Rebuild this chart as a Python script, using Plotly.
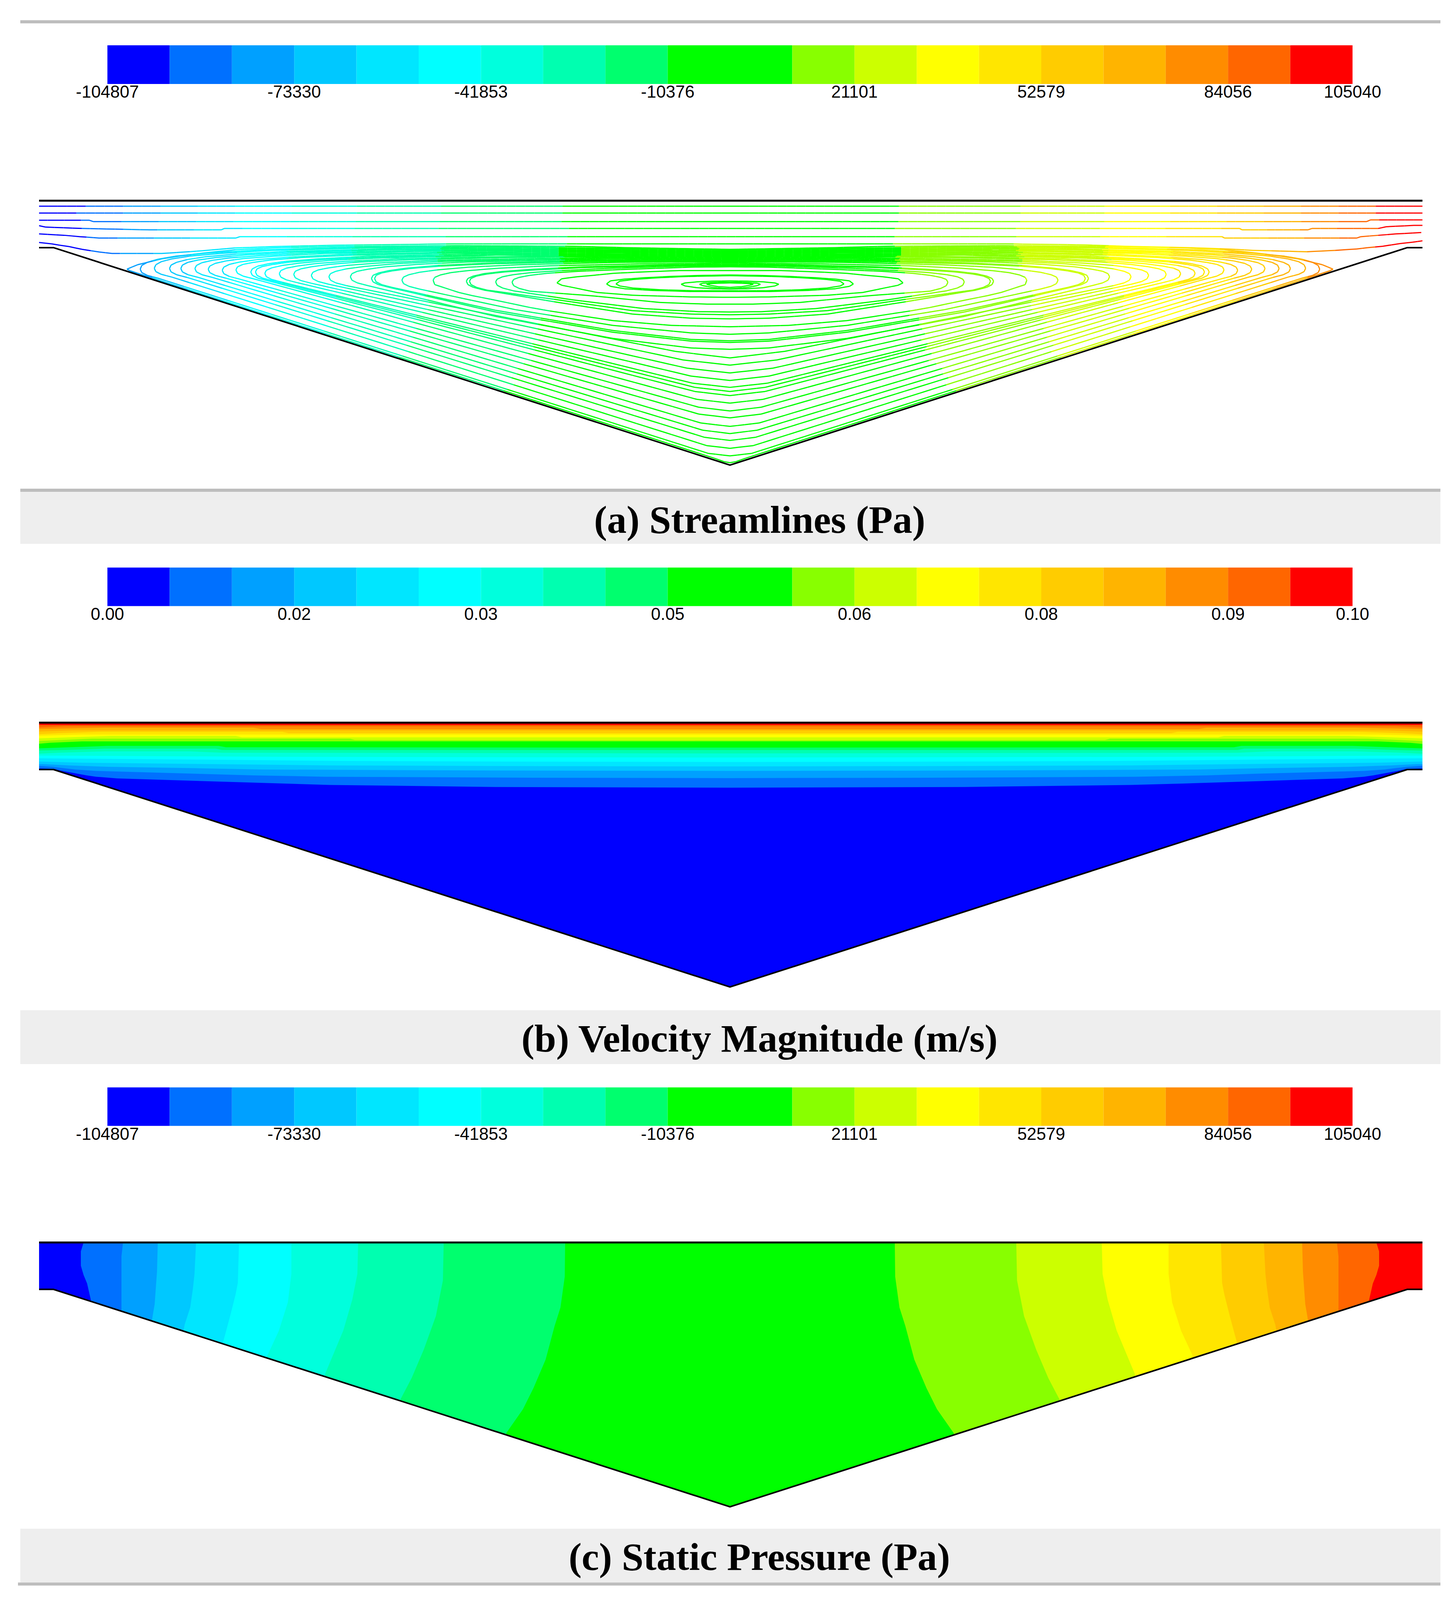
# CFD result panels: streamlines, velocity magnitude, static pressure
import math
import numpy as np
import plotly.graph_objects as go

W, H = 3694, 4654   # page is 3710x4670 with the 8px body margin
MARGIN = 8
LID = -2            # fills stop under the black lid line

# COLOUR LEVELS ------------------------------------------------------------
level_colors = ["#0000ff", "#0070ff", "#00a0ff", "#00c8ff", "#00e6ff", "#00ffff", "#00ffdd",
                "#00ffb0", "#00ff6e", "#00ff00", "#00ff00", "#88ff00", "#ccff00", "#ffff00",
                "#ffe600", "#ffcc00", "#ffb400", "#ff8c00", "#ff6600", "#ff0000"]
tick_cells = [0, 3, 6, 9, 12, 15, 18, 20]
pressure_ticks = ["-104807", "-73330", "-41853", "-10376", "21101", "52579", "84056", "105040"]
velocity_ticks = ["0.00", "0.02", "0.03", "0.05", "0.06", "0.08", "0.09", "0.10"]

captions = ["<b>(a) Streamlines (Pa)</b>", "<b>(b) Velocity Magnitude (m/s)</b>", "<b>(c) Static Pressure (Pa)</b>"]

# GEOMETRY (x from centre line, depth from the moving lid)
wall_x = [-1769, -1732, 0, 1734, 1773]
wall_y = [137, 137, 772, 137, 137]

# PRESSURE BAND EDGES, left half: distance from centre at each depth
p_edge_d = [
    [1655, 1662, 1662, 1655, 1646, 1635],
    [1554, 1558, 1558],
    [1465, 1467, 1473, 1480],
    [1367, 1371, 1375, 1382, 1396, 1399],
    [1257, 1260, 1266, 1280, 1298],
    [1123, 1123, 1132, 1155, 1186],
    [952, 954, 967, 990, 1021, 1037],
    [733, 735, 753, 784, 815, 844],
    [422, 423, 434, 449, 472, 503, 530, 573],
]
p_edge_y = [
    [0, 26, 68, 95, 120, 175],
    [0, 40, 200],
    [0, 85, 180, 227],
    [0, 92, 134, 190, 239, 256],
    [0, 118, 153, 216, 292],
    [0, 92, 175, 258, 334],
    [0, 92, 167, 257, 340, 385],
    [0, 111, 215, 313, 396, 459],
    [0, 100, 190, 244, 342, 425, 487, 557],
]

# VELOCITY BAND EDGES, half profile, lowest band first
v_edge_color = ["#0070ff", "#00a0ff", "#00c8ff", "#00e6ff", "#00ffff", "#00ffdd", "#00ffb0", "#00ff6e", "#00ff00",
                "#88ff00", "#ccff00", "#ffff00", "#ffe600", "#ffcc00", "#ffb400", "#ff8c00", "#ff6600", "#ff0000"]
v_edge_d = [
    [1790, 1732, 1710, 1647, 1623, 1569, 1456, 1354, 1257, 1156, 1025, 600, 0],
    [1790, 1736, 1703, 1676, 1623, 1497, 1354, 1220, 1038, 500, 0],
    [1790, 1760, 1692, 1591, 1369, 1196, 600, 0],
    [1790, 1659, 1317, 1025, 500, 0],
    [1790, 1346, 989, 500, 0],
    [1790, 1146, 0],
    [1790, 1719, 1601, 1383, 1300, 0],
    [1790, 1703, 1601, 1317, 1300, 0],
    [1790, 1692, 1595, 1309, 1290, 0],
    [1790, 1741, 1659, 0],
    [1790, 1716, 1634, 973, 960, 0],
    [1790, 1692, 1585, 1265, 1250, 0],
    [1790, 1659, 0],
    [1790, 1719, 1611, 1146, 1130, 0],
    [1790, 1684, 0],
    [1790, 1601, 1220, 1200, 0],
    [1790, 1703, 0],
    [1790, 0],
]
v_edge_y = [
    [133, 135, 141, 154, 158, 163, 167, 171, 174, 178, 182, 188, 190],
    [125, 129, 133, 137, 141, 145, 149, 154, 158, 161, 162],
    [121, 121, 125, 129, 133, 137, 140, 141],
    [113, 117, 121, 125, 127, 128],
    [104, 108, 112, 114, 115],
    [96, 100, 102],
    [92, 88, 84, 84, 88, 90],
    [82, 80, 76, 76, 80, 80],
    [76, 72, 68, 68, 72, 73],
    [64, 59, 55, 55],
    [55, 51, 47, 47, 51, 52],
    [47, 43, 39, 39, 43, 43],
    [39, 35, 35],
    [35, 31, 27, 27, 31, 31],
    [27, 23, 23],
    [19, 15, 15, 19, 19],
    [15, 11, 11],
    [7, 7],
]

# STREAMLINES OVER THE VORTEX ----------------------------------------------
through_x = [
    [-1769, 1773],
    [-1769, 1773],
    [-1769, -1640, -1630, 1630, 1640, 1773],
    [-1769, -1753, -1660, -1489, -1302, -1295, 1305, 1311, 1480, 1490, 1660, 1680, 1750, 1773],
    [-1769, -1704, -1664, -1614, -1265, -1255, 1260, 1266, 1605, 1615, 1660, 1705, 1770],
    [-1769, -1737, -1716, -1692, -1676, -1659, -1637, -1614, -1583, -1454, -1399, -1349, -1268, -1171, -1009, -704,
     704, 909, 1011, 1174, 1274, 1339, 1478, 1550, 1604, 1633, 1671, 1716, 1748, 1773],
]
through_y = [
    [16, 16],
    [36, 36],
    [57, 57, 61, 61, 56, 56],
    [73, 77, 81, 85, 85, 81, 81, 85, 85, 81, 81, 76, 72, 72],
    [97, 101, 105, 109, 109, 105, 105, 109, 109, 105, 101, 97, 93],
    [122, 126, 130, 134, 138, 142, 146, 150, 154, 154, 150, 146, 138, 134, 130, 126,
     126, 129, 133, 137, 141, 145, 149, 145, 141, 137, 133, 125, 121, 117],
]

# closed loops, read on the left half: tip to centre along the top, then along the bottom
upper_d = [
    [1544, 1517, 1484, 1455, 1410, 1350, 1266, 1171, 1009, 704, 399, 269, 109, 0],
    [1510, 1506, 1492, 1465, 1420, 1340, 1210, 960, 600, 300, 0],
    [1474, 1470, 1456, 1429, 1384, 1304, 1174, 924, 600, 300, 0],
    [1435, 1431, 1417, 1390, 1345, 1265, 1135, 885, 600, 300, 0],
    [1406, 1402, 1388, 1361, 1316, 1236, 1106, 856, 600, 300, 0],
    [1370, 1366, 1352, 1325, 1280, 1200, 1070, 820, 600, 300, 0],
    [1336, 1332, 1318, 1291, 1246, 1166, 1036, 786, 600, 300, 0],
    [1300, 1296, 1282, 1255, 1210, 1130, 1000, 750, 600, 300, 0],
    [1265, 1261, 1247, 1220, 1175, 1095, 965, 715, 600, 300, 0],
    [1227, 1223, 1209, 1182, 1137, 1057, 927, 677, 600, 300, 0],
    [1215, 1211, 1197, 1170, 1125, 1045, 915, 665, 600, 300, 0],
    [1191, 1187, 1173, 1146, 1101, 1021, 891, 641, 600, 300, 0],
    [1154, 1150, 1136, 1109, 1064, 984, 854, 604, 450, 200, 0],
    [1117, 1113, 1099, 1072, 1027, 947, 817, 567, 400, 200, 0],
    [1072, 1068, 1054, 1027, 982, 902, 772, 522, 350, 150, 0],
    [1027, 1023, 1009, 982, 937, 857, 727, 477, 300, 150, 0],
    [972, 968, 954, 927, 882, 802, 672, 422, 250, 100, 0],
    [918, 914, 900, 873, 828, 748, 618, 368, 200, 100, 0],
    [910, 906, 892, 865, 820, 740, 610, 360, 200, 0],
    [840, 836, 822, 795, 750, 670, 540, 290, 150, 0],
    [760, 756, 742, 715, 670, 590, 460, 210, 0],
    [675, 671, 657, 630, 585, 505, 375, 150, 0],
    [667, 663, 649, 622, 577, 497, 367, 150, 0],
    [600, 596, 582, 555, 510, 430, 300, 120, 0],
    [558, 554, 540, 513, 468, 388, 258, 100, 0],
    [443, 431, 391, 351, 299, 224, 132, 0],
    [316, 306, 270, 220, 150, 70, 0],
    [292, 282, 248, 200, 130, 60, 0],
    [125, 115, 85, 45, 0],
    [78, 70, 45, 20, 0],
    [60, 50, 30, 0],
]
upper_y = [
    [200, 187, 178, 170, 162, 153, 143, 138, 134, 131, 133, 137, 140, 142],
    [200, 189, 180, 171, 162, 153, 144, 136, 134, 139, 144],
    [197, 187, 178, 170, 162, 154, 145, 138, 136, 141, 146],
    [198, 188, 180, 172, 164, 156, 148, 141, 139, 144, 148],
    [198, 188, 180, 173, 166, 158, 150, 143, 141, 146, 150],
    [198, 189, 181, 174, 167, 160, 152, 146, 144, 148, 152],
    [200, 191, 183, 176, 169, 162, 154, 148, 146, 150, 154],
    [203, 194, 186, 179, 172, 165, 157, 151, 149, 152, 156],
    [202, 193, 186, 180, 173, 166, 159, 153, 152, 155, 158],
    [208, 199, 191, 184, 177, 170, 162, 156, 154, 157, 160],
    [208, 199, 192, 186, 179, 172, 165, 159, 157, 159, 162],
    [212, 203, 196, 189, 182, 174, 167, 161, 159, 161, 164],
    [213, 204, 197, 191, 184, 177, 170, 164, 162, 164, 166],
    [215, 206, 199, 193, 186, 179, 172, 166, 164, 166, 168],
    [218, 209, 202, 196, 189, 182, 175, 169, 167, 169, 170],
    [222, 213, 206, 199, 192, 184, 177, 171, 169, 170, 172],
    [222, 213, 206, 200, 193, 186, 179, 173, 172, 173, 174],
    [227, 218, 211, 204, 197, 189, 182, 175, 174, 175, 176],
    [227, 218, 211, 205, 198, 191, 184, 178, 177, 178],
    [232, 223, 216, 209, 202, 194, 187, 180, 179, 180],
    [232, 224, 217, 210, 204, 197, 190, 184, 183],
    [235, 227, 220, 213, 207, 200, 193, 187, 186],
    [235, 227, 220, 214, 208, 202, 195, 189, 188],
    [237, 229, 222, 216, 210, 204, 197, 191, 190],
    [238, 230, 224, 218, 212, 206, 200, 194, 193],
    [240, 228, 222, 218, 212, 208, 204, 204],
    [243, 234, 229, 225, 221, 218, 217],
    [243, 235, 230, 226, 222, 220, 219],
    [244, 240, 237, 235, 234],
    [244, 241, 239, 238, 238],
    [244, 242, 241, 240],
]
lower_d = [
    [1544, 1535, 1500, 40, 15, 0],
    [1510, 1506, 1492, 1465, 55, 0],
    [1474, 1470, 1456, 1429, 60, 0],
    [1435, 1431, 1417, 1390, 65, 0],
    [1406, 1402, 1388, 1361, 70, 0],
    [1370, 1366, 1352, 1325, 75, 0],
    [1336, 1332, 1318, 1291, 80, 0],
    [1300, 1296, 1282, 1255, 80, 0],
    [1265, 1261, 1247, 1220, 85, 0],
    [1227, 1223, 1209, 1182, 90, 0],
    [1215, 1211, 1197, 1170, 90, 0],
    [1191, 1187, 1173, 1146, 95, 0],
    [1154, 1150, 1136, 1109, 100, 0],
    [1117, 1113, 1099, 1072, 110, 0],
    [1072, 1068, 1054, 1027, 120, 0],
    [1027, 1023, 1009, 982, 140, 0],
    [972, 968, 954, 927, 600, 300, 100, 0],
    [918, 914, 900, 873, 600, 300, 100, 0],
    [910, 906, 892, 865, 600, 300, 100, 0],
    [840, 836, 822, 795, 550, 300, 100, 0],
    [760, 756, 729, 694, 660, 590, 511, 461, 300, 150, 0],
    [675, 671, 657, 630, 450, 250, 100, 0],
    [667, 663, 649, 622, 450, 250, 100, 0],
    [600, 596, 582, 555, 400, 220, 80, 0],
    [558, 554, 540, 513, 360, 180, 60, 0],
    [443, 430, 395, 340, 250, 100, 0],
    [316, 306, 270, 200, 100, 0],
    [292, 282, 248, 180, 90, 0],
    [125, 115, 85, 45, 0],
    [78, 70, 45, 20, 0],
    [60, 50, 30, 0],
]
lower_y = [
    [200, 205, 218, 752, 762, 765],
    [200, 210, 218, 226, 738, 745],
    [197, 207, 215, 223, 715, 723],
    [198, 208, 216, 224, 691, 700],
    [198, 208, 216, 224, 670, 680],
    [198, 208, 216, 224, 649, 659],
    [200, 210, 218, 226, 623, 634],
    [203, 213, 221, 229, 603, 614],
    [202, 212, 220, 228, 580, 591],
    [208, 218, 226, 234, 557, 569],
    [208, 218, 226, 234, 545, 557],
    [212, 222, 230, 238, 533, 545],
    [213, 223, 231, 239, 512, 525],
    [215, 225, 233, 241, 489, 503],
    [218, 228, 236, 244, 465, 480],
    [222, 232, 240, 248, 440, 459],
    [222, 232, 240, 248, 338, 402, 430, 434],
    [227, 237, 245, 253, 325, 384, 410, 414],
    [227, 237, 245, 253, 320, 379, 405, 409],
    [232, 242, 250, 258, 318, 364, 386, 390],
    [232, 245, 255, 268, 277, 293, 312, 322, 350, 364, 368],
    [235, 245, 253, 261, 295, 331, 343, 345],
    [235, 245, 253, 261, 288, 321, 331, 333],
    [237, 247, 255, 263, 290, 315, 324, 325],
    [238, 248, 256, 264, 277, 297, 302, 302],
    [240, 247, 255, 268, 276, 281, 282],
    [243, 250, 257, 262, 265, 265],
    [243, 249, 255, 260, 263, 263],
    [244, 249, 254, 257, 258],
    [244, 248, 253, 256, 257],
    [244, 247, 251, 253],
]


# PAGE POSITIONS ------------------------------------------------------------
def px(x):
    return (x - MARGIN) / W


def py(y):
    return 1 - (y - MARGIN) / H


bar_tops = [131, 1656, 3174]
field_tops = [585, 2109, 3627]
bar_h = 113
field_left, field_right = 100, 3642
x_range = [-1769, 1773]
y_range = [790, -10]


def pressure_band(x, y):
    left = sum(x >= -np.interp(y, e_y, e_d) for e_d, e_y in zip(p_edge_d, p_edge_y))
    right = sum(x >= np.interp(y, e_y, e_d) for e_d, e_y in zip(p_edge_d, p_edge_y))
    return 10 + right if right > 0 else left


fig = go.Figure()
layout_axes = {}

for n in range(3):
    # colour bar axes 1, 3, 5 / field axes 2, 4, 6
    bar_id, field_id = 2 * n + 1, 2 * n + 2
    layout_axes[f"xaxis{bar_id}"] = dict(domain=[px(275), px(3463)], range=[0, 20], anchor=f"y{bar_id}",
                                         tickvals=tick_cells, ticktext=velocity_ticks if n == 1 else pressure_ticks,
                                         tickfont=dict(family="Liberation Sans", size=44, color="black"),
                                         tickangle=0, ticks="", showgrid=False, zeroline=False, showline=False,
                                         automargin=False, ticklabelstandoff=-10)
    layout_axes[f"yaxis{bar_id}"] = dict(domain=[py(bar_tops[n] + bar_h), py(bar_tops[n])], range=[0, 1],
                                         anchor=f"x{bar_id}", visible=False, automargin=False)
    layout_axes[f"xaxis{field_id}"] = dict(domain=[px(field_left), px(field_right)], range=x_range,
                                           anchor=f"y{field_id}", visible=False, automargin=False)
    layout_axes[f"yaxis{field_id}"] = dict(domain=[py(field_tops[n] + y_range[0]), py(field_tops[n] + y_range[1])],
                                           range=y_range, anchor=f"x{field_id}", visible=False, automargin=False)

    fig.add_trace(go.Bar(x=[i + 0.5 for i in range(20)], y=[1] * 20, width=1, marker_color=level_colors,
                         marker_line_width=0, xaxis=f"x{bar_id}", yaxis=f"y{bar_id}"))


def add_field(trace, n):
    trace.update(xaxis=f"x{2 * n + 2}", yaxis=f"y{2 * n + 2}", hoverinfo="skip")
    fig.add_trace(trace)


def fill_poly(xs, ys, color, n):
    add_field(go.Scatter(x=xs, y=ys, mode="lines", fill="toself", fillcolor=color, line=dict(width=0)), n)


# (a) streamlines, coloured with the pressure band they run through
paths = [(list(bx), list(by)) for bx, by in zip(through_x, through_y)]
for u_d, u_y, l_d, l_y in zip(upper_d, upper_y, lower_d, lower_y):
    xs = [-d for d in u_d] + [d for d in u_d[::-1]] + [d for d in l_d] + [-d for d in l_d[::-1]]
    ys = list(u_y) + list(u_y[::-1]) + list(l_y) + list(l_y[::-1])
    paths.append((xs, ys))

bucket_x = {i: [] for i in range(20)}
bucket_y = {i: [] for i in range(20)}
for xs, ys in paths:
    for x0, y0, x1, y1 in zip(xs[:-1], ys[:-1], xs[1:], ys[1:]):
        steps = max(1, math.ceil(math.hypot(x1 - x0, y1 - y0) / 24))
        for s in range(steps):
            xa, ya = x0 + (x1 - x0) * s / steps, y0 + (y1 - y0) * s / steps
            xb, yb = x0 + (x1 - x0) * (s + 1) / steps, y0 + (y1 - y0) * (s + 1) / steps
            band = pressure_band((xa + xb) / 2, (ya + yb) / 2)
            bucket_x[band] += [xa, xb, None]
            bucket_y[band] += [ya, yb, None]
for band in range(20):
    if bucket_x[band]:
        add_field(go.Scatter(x=bucket_x[band], y=bucket_y[band], mode="lines",
                             line=dict(color=level_colors[band], width=3)), 0)

# base colour stays inside the axes below the shoulders, so the white cover leaves no edge at the clip box
base_x = [-1790, 1790, 1790, 1760, 1760, -1760, -1760, -1790]
base_y = [LID, LID, 137, 137, 780, 780, 137, 137]

# (b) velocity bands, painted from the lowest level up
fill_poly(base_x, base_y, level_colors[0], 1)
for color, e_d, e_y in zip(v_edge_color, v_edge_d, v_edge_y):
    fill_poly([-1790] + [-d for d in e_d] + e_d[::-1] + [1790], [LID] + e_y + e_y[::-1] + [LID], color, 1)

# (c) pressure bands, each one painted over everything to the right of its edge
fill_poly(base_x, base_y, level_colors[0], 2)
for k, (e_d, e_y) in enumerate(zip(p_edge_d, p_edge_y)):
    xs = [-d for d in e_d]
    fill_poly([xs[0]] + xs + [xs[-1], 1760, 1760, 1790, 1790], [LID] + e_y + [780, 780, 137, 137, LID],
              level_colors[k + 1], 2)
for k in range(8, -1, -1):
    xs = list(p_edge_d[k])
    fill_poly([xs[0]] + xs + [xs[-1], 1760, 1760, 1790, 1790], [LID] + p_edge_y[k] + [780, 780, 137, 137, LID],
              level_colors[19 - k], 2)

# white below the wall, wall and lid outline on all three
for n in range(3):
    fill_poly(wall_x + [1790, 1790, -1790, -1790], wall_y + [137, 800, 800, 137], "white", n)
    add_field(go.Scatter(x=wall_x, y=wall_y, mode="lines", line=dict(color="black", width=4)), n)
    add_field(go.Scatter(x=x_range, y=[0, 0], mode="lines", line=dict(color="black", width=5)), n)

# RULES, CAPTION BANDS ------------------------------------------------------
shapes = []
for x0, y0, x1, y1, color in [
    (52, 58, 3688, 67, "#bdbdbd"),
    (52, 1435, 3688, 1587, "#eeeeee"),
    (52, 1426, 3688, 1435, "#bdbdbd"),
    (52, 2949, 3688, 3106, "#eeeeee"),
    (52, 4463, 3688, 4620, "#eeeeee"),
    (46, 4620, 3688, 4629, "#bdbdbd"),
]:
    shapes.append(dict(type="rect", xref="paper", yref="paper", x0=px(x0), x1=px(x1), y0=py(y0), y1=py(y1),
                       fillcolor=color, line=dict(width=0), layer="below"))

annotations = []
for text, base in zip(captions, [1551, 3065, 4579]):
    annotations.append(dict(text=text, xref="paper", yref="paper", x=px(1945), y=py(base - 34), showarrow=False,
                            xanchor="center", yanchor="middle",
                            font=dict(family="Liberation Serif", size=100, color="black")))

# no fixed pixel size: the figure fills the browser window, less the 8px body margin
fig.update_layout(template="none", margin=dict(l=0, r=0, t=0, b=0, pad=0, autoexpand=False),
                  paper_bgcolor="white", plot_bgcolor="rgba(0,0,0,0)",
                  showlegend=False, shapes=shapes, annotations=annotations, **layout_axes)

fig.write_html("out.html", default_width="calc(100vw - 16px)", default_height="calc(100vh - 16px)")
